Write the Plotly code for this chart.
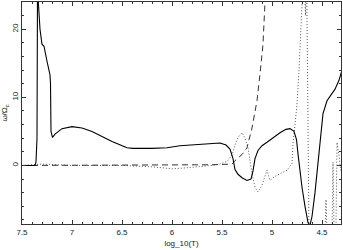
import plotly.graph_objects as go

# Solid curve
solid_x = [7.5, 7.37, 7.36, 7.355, 7.35, 7.345, 7.335, 7.32, 7.30, 7.28, 7.25, 7.235, 7.22, 7.215,
           7.21, 7.195, 7.17, 7.1, 7.0, 6.9, 6.8, 6.72, 6.6, 6.45, 6.39, 6.2, 6.05, 5.92, 5.75,
           5.62, 5.52, 5.46, 5.42, 5.39, 5.37, 5.34, 5.30, 5.25, 5.21, 5.19, 5.17, 5.14, 5.10,
           5.05, 4.98, 4.92, 4.86, 4.82, 4.78, 4.755, 4.74, 4.72, 4.70, 4.67, 4.64, 4.62, 4.60,
           4.57, 4.55, 4.52, 4.49, 4.45, 4.40, 4.37, 4.33, 4.30]
solid_y = [0, 0, 0.5, 3.2, 4, 26, 24, 20, 17.8, 17.5, 15.3, 14, 13.3, 12,
           5, 4.1, 4.6, 5.4, 5.7, 5.5, 5.0, 4.4, 3.5, 2.6, 2.5, 2.5, 2.6, 2.9, 3.1,
           3.2, 3.3, 3.0, 2.4, 1.0, -0.6, -1.3, -1.8, -2.2, -2.0, -0.8, 1.0, 2.2, 2.9,
           3.4, 4.2, 4.8, 5.3, 5.4, 5.0, 3.8, 1.7, -1, -3.2, -6, -8.4, -8.8, -7.5,
           -4, -1.2, 3, 7.6, 9.5, 10.5, 11.2, 12.5, 14]

# Dashed curve
dash_x = [7.5, 7.36, 7.0, 6.5, 6.0, 5.6, 5.4, 5.37, 5.30, 5.25, 5.20, 5.15, 5.12, 5.09, 5.07, 5.06]
dash_y = [0, 0, 0, 0, 0, 0.1, 0.2, 0.7, 1.6, 2.6, 5.5, 9.5, 13.4, 17.8, 24, 30]

# Dotted curve
dot_x = [7.5, 7.3, 7.0, 6.5, 6.2, 6.0, 5.9, 5.8, 5.6, 5.52, 5.45, 5.40, 5.37, 5.34, 5.30, 5.27,
         5.24, 5.20, 5.17, 5.14, 5.10, 5.05, 5.02, 4.97, 4.92, 4.85, 4.80, 4.79, 4.77, 4.75,
         4.73, 4.71, 4.70, 4.68, 4.665, 4.655, 4.645, 4.64, 4.635, 4.63, 4.47, 4.46, 4.45,
         4.40, 4.39, 4.38, 4.36, 4.35, 4.33, 4.31]
dot_y = [0, 0.2, 0, 0, -0.2, -0.5, -0.4, -0.3, 0, 0.2, 0.6, 1.5, 3.0, 4.1, 4.8, 4.0,
         2.6, -1.2, -3.2, -3.9, -2.9, -0.7, -2.2, -1.6, -1.2, -0.7, 0.3, 3.2, 6, 9,
         14, 20, 26, 30, 22, 30, 14, 5, -2, -10, -10, -5, -10,
         -10, 0.5, -9, -9, 3.4, 1.5, -1]

x_ticks = [7.5, 7, 6.5, 6, 5.5, 5, 4.5]
x_ticklabels = ["7.5", "7", "6.5", "6", "5.5", "5", "4.5"]
y_ticks = [0, 10, 20]
y_ticklabels = ["0", "10", "20"]

fig = go.Figure()
fig.add_trace(go.Scatter(x=dot_x, y=dot_y, mode="lines",
                         line=dict(color="#555555", width=1, dash="1px,2px")))
fig.add_trace(go.Scatter(x=dash_x, y=dash_y, mode="lines",
                         line=dict(color="#333333", width=1, dash="6px,4px")))
fig.add_trace(go.Scatter(x=solid_x, y=solid_y, mode="lines",
                         line=dict(color="black", width=1.1)))

fnt = dict(family="Liberation Sans, Arial, sans-serif", size=8, color="#222222")

fig.update_layout(
    width=343, height=250,
    margin=dict(l=22, r=2, t=2, b=26),
    plot_bgcolor="white", paper_bgcolor="white",
    showlegend=False,
    font=fnt,
    xaxis=dict(range=[7.5, 4.31], showgrid=False, zeroline=False,
               tickmode="array", tickvals=x_ticks, ticktext=x_ticklabels,
               ticks="inside", ticklen=4, tickwidth=1, tickcolor="#333",
               minor=dict(dtick=0.1, ticks="inside", ticklen=2, tickcolor="#333"),
               showline=True, linecolor="#333", linewidth=1, mirror="allticks",
               title=dict(text="log_10(T)", font=fnt, standoff=4),
               tickfont=fnt),
    yaxis=dict(range=[-8.6, 24], showgrid=False, zeroline=False,
               tickmode="array", tickvals=y_ticks, ticktext=y_ticklabels,
               ticks="inside", ticklen=4, tickwidth=1, tickcolor="#333",
               minor=dict(dtick=2, ticks="inside", ticklen=2, tickcolor="#333"),
               showline=True, linecolor="#333", linewidth=1, mirror="allticks",
               tickangle=-90,
               title=dict(text="ω/Ω<sub>c</sub>", font=fnt, standoff=2),
               tickfont=fnt),
)

fig.write_html("out.html", config={"displayModeBar": False},
               post_script="document.body.style.margin='0';document.body.style.padding='0';")
